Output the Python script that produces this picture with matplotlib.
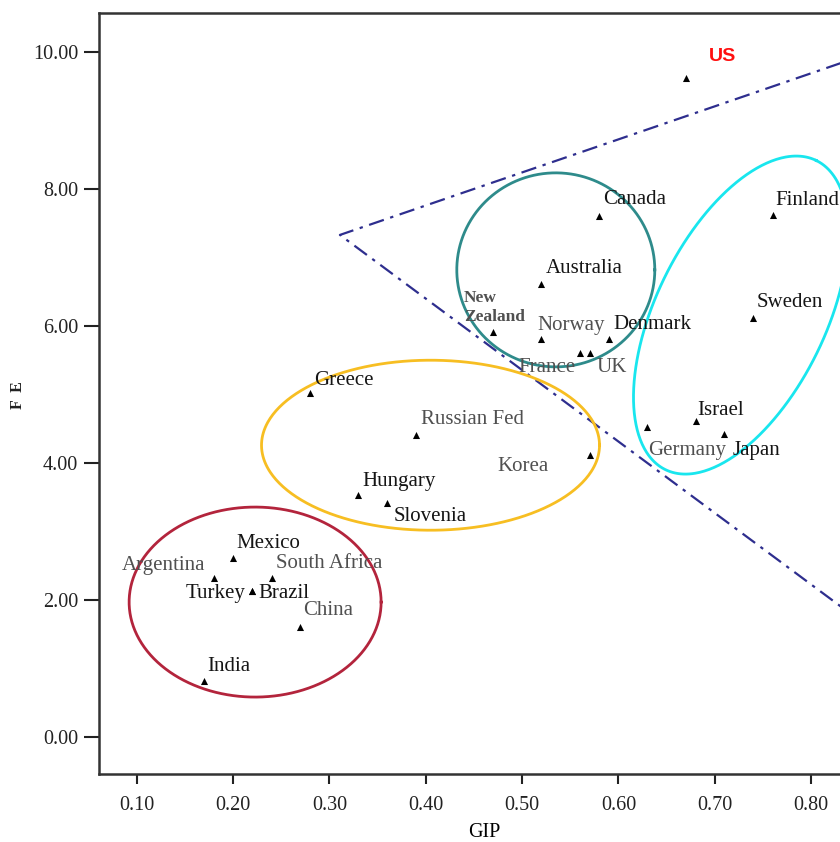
import numpy as np
import matplotlib
matplotlib.use("Agg")
import matplotlib.pyplot as plt

plt.rcParams['font.family'] = ['Liberation Serif', 'DejaVu Serif']

# ---- data ----
countries = ["US", "Canada", "Australia", "New\nZealand", "Norway", "Denmark",
             "France", "UK", "Finland", "Sweden", "Israel", "Germany", "Japan",
             "Greece", "Russian Fed", "Korea", "Hungary", "Slovenia",
             "Mexico", "Argentina", "South Africa", "Turkey", "Brazil",
             "China", "India"]
gip = [0.67, 0.58, 0.52, 0.47, 0.52, 0.59,
       0.56, 0.57, 0.76, 0.74, 0.68, 0.63, 0.71,
       0.28, 0.39, 0.57, 0.33, 0.36,
       0.20, 0.18, 0.24, 0.22, 0.22,
       0.27, 0.17]
fe = [9.62, 7.61, 6.61, 5.91, 5.81, 5.81,
      5.61, 5.61, 7.62, 6.12, 4.61, 4.52, 4.42,
      5.02, 4.41, 4.12, 3.53, 3.42,
      2.61, 2.32, 2.32, 2.13, 2.13,
      1.61, 0.82]

xticks = [0.10, 0.20, 0.30, 0.40, 0.50, 0.60, 0.70, 0.80]
yticks = [0.00, 2.00, 4.00, 6.00, 8.00, 10.00]

# label offsets in pixels (dx, dy) and horizontal alignment
label_off = {
    "US": (23, 22, 'left'), "Canada": (4, 16, 'left'), "Australia": (4, 16, 'left'),
    "New\nZealand": (-29, 25, 'left'), "Norway": (-4, 14, 'left'),
    "Denmark": (5, 15, 'left'), "France": (-62, -15, 'left'), "UK": (7, -15, 'left'),
    "Finland": (3, 15, 'left'), "Sweden": (3, 15, 'left'), "Israel": (2, 11, 'left'),
    "Germany": (1, -23, 'left'), "Japan": (8, -16, 'left'), "Greece": (4, 13, 'left'),
    "Russian Fed": (5, 15, 'left'), "Korea": (-92, -12, 'left'),
    "Hungary": (4, 14, 'left'), "Slovenia": (6, -14, 'left'), "Mexico": (3, 15, 'left'),
    "Argentina": (-8, 13, 'right'), "South Africa": (4, 15, 'left'),
    "Turkey": (-7, -2, 'right'), "Brazil": (6, -2, 'left'), "China": (3, 16, 'left'),
    "India": (3, 14, 'left'),
}
gray_names = {"Korea", "France", "UK", "Russian Fed", "Norway", "New\nZealand",
              "Argentina", "South Africa", "China", "Germany"}

# group ellipses: center (data), semi-axes (pixels), angle (deg), colour
ell_cx = [0.223, 0.405, 0.535, 0.727]
ell_cy = [1.97, 4.26, 6.82, 6.16]
ell_a = [126, 169, 99, 172]
ell_b = [95, 85, 97, 85]
ell_ang = [0, 0, 0, 64]
ell_col = ['#b3243c', '#f7be22', '#2e8b8b', '#19e6ee']

# boundary wedge (dash-dot)
wedge_x = [0.86, 0.311, 0.86]
wedge_y = [9.98, 7.33, 1.60]

# ---- figure ----
fig = plt.figure(figsize=(8.4, 8.42), dpi=100)
ax = fig.add_axes([99 / 840, 68 / 842, 770 / 840, 761 / 842])
ax.set_xlim(0.061, 0.86)
ax.set_ylim(-0.54, 10.57)

ax.plot(wedge_x, wedge_y, color='#2e2e8e', lw=1.6,
        dashes=(7, 3, 1.5, 3), zorder=2, clip_on=True)

fig.canvas.draw()
t = np.linspace(0, 2 * np.pi, 400)
for cx, cy, a, b, ang, col in zip(ell_cx, ell_cy, ell_a, ell_b, ell_ang, ell_col):
    c = ax.transData.transform((cx, cy))
    th = np.deg2rad(ang)
    px = a * np.cos(t) * np.cos(th) - b * np.sin(t) * np.sin(th)
    py = a * np.cos(t) * np.sin(th) + b * np.sin(t) * np.cos(th)
    pts = ax.transData.inverted().transform(np.column_stack([c[0] + px, c[1] + py]))
    ax.plot(pts[:, 0], pts[:, 1], color=col, lw=2.0, zorder=2)

ax.scatter(gip, fe, marker='^', s=26, color='black', zorder=3, linewidths=0)

for name, x, y in zip(countries, gip, fe):
    dx, dy, ha = label_off[name]
    if name == "US":
        ax.annotate(name, (x, y), xytext=(dx, dy), textcoords='offset pixels',
                    ha=ha, va='center', fontsize=14, color='#ff1010',
                    fontweight='bold', family=['Liberation Sans'])
        continue
    if name == "New\nZealand":
        fs, fw = 12.5, 'bold'
    else:
        fs, fw = 15, 'normal'
    col = '#505050' if name in gray_names else '#151515'
    ax.annotate(name, (x, y), xytext=(dx, dy), textcoords='offset pixels',
                ha=ha, va='center', fontsize=fs, color=col,
                linespacing=1.25, fontweight=fw)

ax.set_xticks(xticks)
ax.set_xticklabels([f"{v:.2f}" for v in xticks])
ax.set_yticks(yticks)
ax.set_yticklabels([f"{v:.2f}" for v in yticks])
ax.tick_params(axis='x', direction='out', length=7.5, width=1.5, labelsize=14.5,
               colors='#222222', pad=8)
ax.tick_params(axis='y', direction='out', length=11, width=1.5, labelsize=14.5,
               colors='#222222', pad=4)

for s in ['left', 'bottom', 'top', 'right']:
    ax.spines[s].set_linewidth(1.8)
    ax.spines[s].set_color('#333333')

ax.set_xlabel('GIP', fontsize=14.5, labelpad=6)
fig.text(18 / 840, 1 - 395 / 842, 'F  E', rotation=90, ha='center', va='center',
         fontsize=11.5, fontweight='bold', color='#222222')

fig.savefig('out.png', dpi=100)
